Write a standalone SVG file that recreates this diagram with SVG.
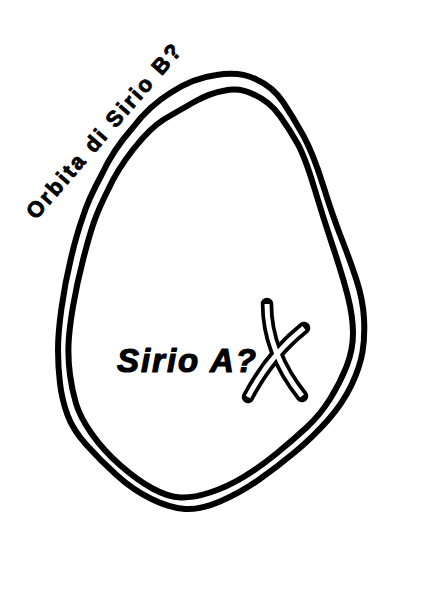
<svg xmlns="http://www.w3.org/2000/svg" width="424" height="600" viewBox="0 0 424 600">
<style>
.orb{fill:none;stroke:#000;stroke-width:6;stroke-linejoin:round}
.xo{fill:none;stroke:#000;stroke-width:12.5;stroke-linecap:round}
.xi{fill:none;stroke:#fff;stroke-width:5;stroke-linecap:butt}
.lbl{font-family:"Liberation Sans",Arial,sans-serif;font-weight:bold;fill:#000;stroke:#000;stroke-linejoin:round}
</style>
<rect width="424" height="600" fill="#fff"/>
<g id="orbit">
<path class="orb" d="M216.5,75 Q240,71 256.5,79.5 Q273,87 283,102 Q293,117 303,135 Q313,153 323,185 Q333,217 341.5,238.5 Q350,260 356.5,280 Q363,300 364,318.5 Q365,337 362.5,352 Q360,367 351.5,385 Q343,403 328,420 Q313,437 295,452 Q277,467 258.5,480 Q240,493 220,501.5 Q200,510 185,509 Q170,508 151.5,499 Q133,490 116.5,475 Q100,460 86.5,445 Q73,430 67.5,415 Q62,400 60,383.5 Q58,367 58,350 Q58,333 61.5,308 Q65,283 71,258 Q77,233 83,216.5 Q88,200 101.5,175 Q113,150 132.5,128 Q149,106 171,92.5 Q193,78 216.5,75 Z"/>
<path class="orb" d="M225,90.5 Q240,87 255,95 Q270,102 280,116 Q290,130 297.5,143.5 Q305,157 314,187 Q323,217 333,247 Q343,277 348,297 Q353,317 353,333.5 Q353,350 346.5,366.5 Q340,383 330,399 Q320,415 306.5,427.5 Q293,440 276.5,453.5 Q260,467 243.5,477 Q227,487 210,492.5 Q193,498 180.5,497.5 Q168,497 152.5,488.5 Q137,480 120,465 Q103,450 91.5,433.5 Q80,417 76,403.5 Q72,390 70,375 Q68,360 68.5,345 Q69,330 73,306.5 Q77,283 83.5,258 Q90,233 94.5,220.5 Q99,208 108,190 Q117,170 133.5,149 Q150,128 164.5,119 Q180,110 195,101.5 Q210,93 225,90.5 Z"/>
</g>
<g id="orbit-label">
<text class="lbl" font-size="22" stroke-width="0.9" transform="translate(36,220.5) rotate(-49)" textLength="223" lengthAdjust="spacing">Orbita di Sirio B?</text>
</g>
<g id="sirio-a">
<text class="lbl" font-size="33" stroke-width="1.2" font-style="italic" x="117" y="372" textLength="139" lengthAdjust="spacing">Sirio A?</text>
<g id="x-mark">
<path class="xo" d="M267,304 Q267,352 302,396"/>
<path class="xo" d="M304,328 Q270,355 248,397"/>
<path class="xi" d="M267,304 Q267,352 302,396"/>
<path class="xi" d="M304,328 Q270,355 248,397"/>
</g>
</g>
</svg>
